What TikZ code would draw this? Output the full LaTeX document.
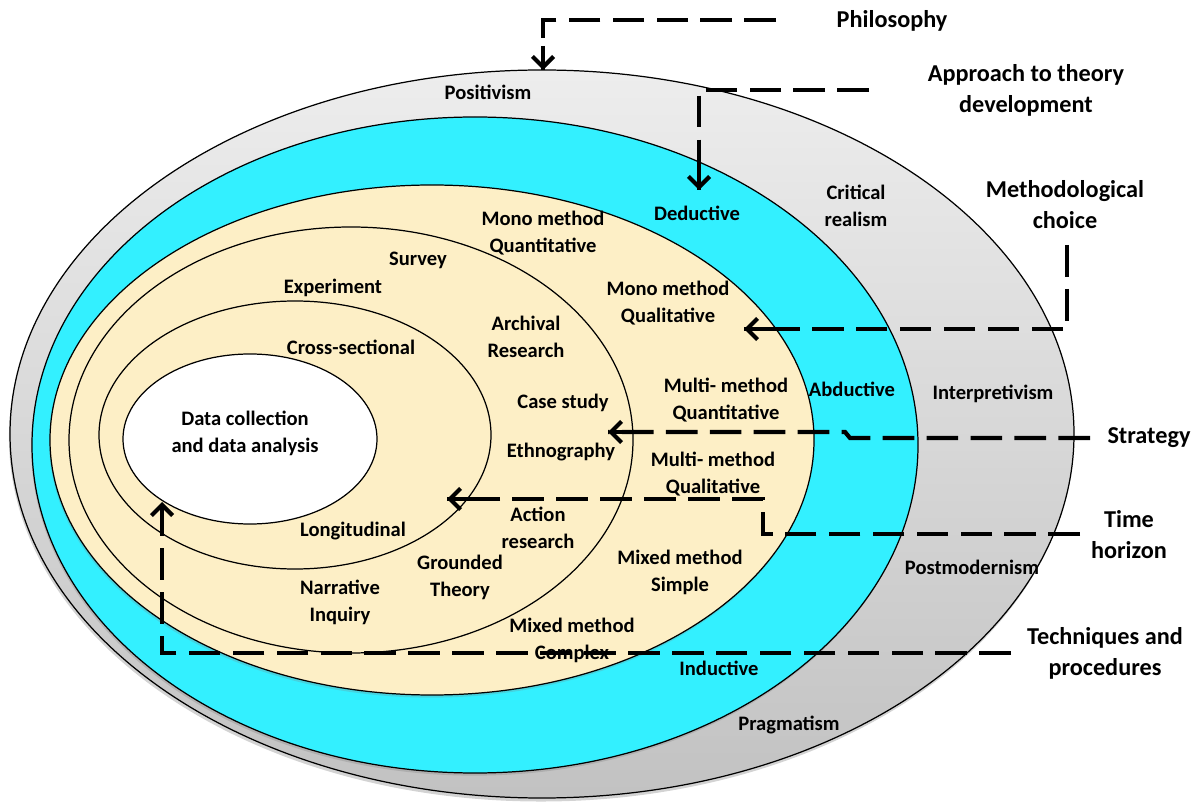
\documentclass[tikz,border=0pt]{standalone}
\usepackage{fontspec}
\setmainfont{Carlito}
\usepackage{tikz}
\usetikzlibrary{arrows.meta,shadows}
\definecolor{onioncyan}{RGB}{51,240,255}
\definecolor{onionbeige}{RGB}{253,239,198}
\tikzstyle{layer} = [draw=black, line width=0.7pt]
\tikzstyle{lead} = [line width=2.4pt, dash pattern=on 18pt off 7pt]
\tikzstyle{tipline} = [line width=2.4pt, -{Straight Barb[length=6pt,width=12pt]}]
\tikzstyle{title} = [font=\fontsize{13.8}{17.6}\selectfont\bfseries, align=center]
\tikzstyle{tag} = [font=\fontsize{11.7}{15.3}\selectfont\bfseries, align=center, inner sep=1pt]

\begin{document}
\begin{tikzpicture}[x=0.02cm,y=-0.02cm]
\useasboundingbox (0,0) rectangle (1200,803);
\draw [layer, top color=gray!14, bottom color=gray!48, drop shadow={shadow xshift=-0.6pt,shadow yshift=-2pt,opacity=0.35}] (542,434) ellipse (532 and 364);
\draw [layer, fill=onioncyan, drop shadow={shadow xshift=-0.5pt,shadow yshift=-1.5pt,opacity=0.3}] (475,445) ellipse (443 and 328);
\draw [layer, fill=onionbeige, drop shadow={shadow xshift=-0.5pt,shadow yshift=-1.5pt,opacity=0.25}] (432,440) ellipse (382 and 255);
\draw [layer, fill=onionbeige] (351,440) ellipse (282 and 213);
\draw [layer, fill=onionbeige] (295,435) ellipse (196 and 134);
\draw [layer, fill=white] (250,439) ellipse (127 and 85);
\draw (892,21) node[title] (philo) {Philosophy};
\draw (1026,90) node[title] (appr) {Approach to theory\\development};
\draw (1065,205) node[title] (meth) {Methodological\\choice};
\draw (1149,438) node[title] (strat) {Strategy};
\draw (1129,535) node[title] (time) {Time\\horizon};
\draw (1105,653) node[title] (tech) {Techniques and\\procedures};
\draw (488,92) node[tag] (posit) {Positivism};
\draw (856,206) node[tag] (crit) {Critical\\realism};
\draw (993,394) node[tag] (interp) {Interpretivism};
\draw (972,567) node[tag] (postm) {Postmodernism};
\draw (789,725) node[tag] (pragm) {Pragmatism};
\draw (697,213) node[tag] (deduc) {Deductive};
\draw (852,389) node[tag] (abduc) {Abductive};
\draw (719,668) node[tag] (induc) {Inductive};
\draw (543,233) node[tag] (monoquan) {Mono method\\Quantitative};
\draw (668,303) node[tag] (monoqual) {Mono method\\Qualitative};
\draw (726,400) node[tag] (multiquan) {Multi- method\\Quantitative};
\draw (713,474) node[tag] (multiqual) {Multi- method\\Qualitative};
\draw (680,572) node[tag] (mixsimp) {Mixed method\\Simple};
\draw (572,640) node[tag] (mixcomp) {Mixed method\\Complex};
\draw (418,260) node[tag] (survey) {Survey};
\draw (333,288) node[tag] (exper) {Experiment};
\draw (526,337) node[tag] (archiv) {Archival\\Research};
\draw (563,403) node[tag] (case) {Case study};
\draw (561,452) node[tag] (ethno) {Ethnography};
\draw (538,528) node[tag] (action) {Action\\research};
\draw (460,577) node[tag] (ground) {Grounded\\Theory};
\draw (340,602) node[tag] (narr) {Narrative\\Inquiry};
\draw (351,347) node[tag] (cross) {Cross-sectional};
\draw (353,531) node[tag] (longi) {Longitudinal};
\draw (245,433) node[tag] (data) {Data collection\\and data analysis};
\coordinate (philo-a) at (776,20);
\coordinate (philo-b) at (543,70);
\coordinate (appr-a) at (869,90);
\coordinate (appr-b) at (699,190);
\coordinate (meth-a) at (1067,245);
\coordinate (meth-b) at (744,329);
\coordinate (strat-a) at (1090,438);
\coordinate (strat-b) at (608,432);
\coordinate (time-a) at (1080,534);
\coordinate (time-b) at (447,499);
\coordinate (tech-a) at (1011,653);
\coordinate (tech-b) at (162,502);
\draw [lead] (philo-a) -| (philo-b);
\draw [lead] (appr-a) -| (appr-b);
\draw [lead] (meth-a) |- (meth-b);
\draw [lead] (strat-a) -- ++(-240,0) -- ++(-5,-6) -- (strat-b);
\draw [lead] (time-a) -- ++(-317,0) |- (time-b);
\draw [lead] (tech-a) -| (tech-b);
\draw [tipline] (philo-b) ++(0,-24) -- (philo-b);
\draw [tipline] (appr-b) ++(0,-24) -- (appr-b);
\draw [tipline] (meth-b) ++(24,0) -- (meth-b);
\draw [tipline] (strat-b) ++(24,0) -- (strat-b);
\draw [tipline] (time-b) ++(24,0) -- (time-b);
\draw [tipline] (tech-b) ++(0,24) -- (tech-b);
\end{tikzpicture}
\end{document}
